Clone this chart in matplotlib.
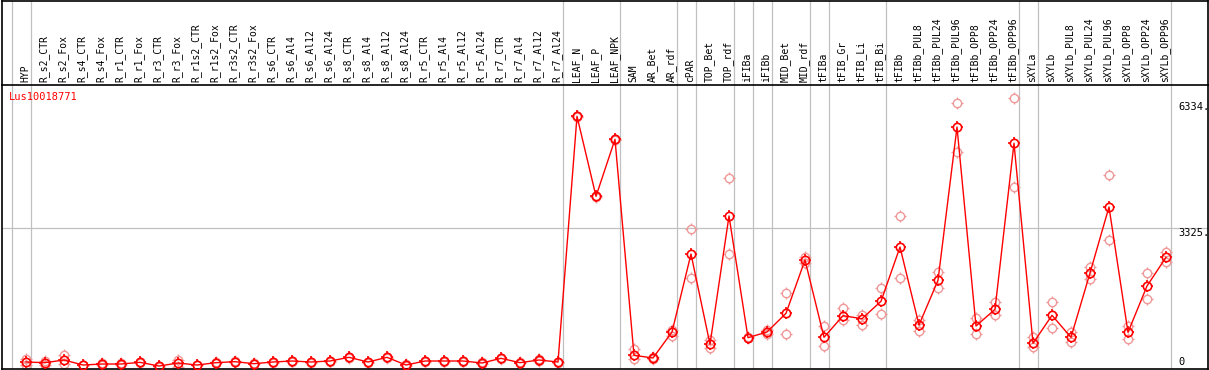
import matplotlib
matplotlib.use("Agg")
import matplotlib.pyplot as plt
from matplotlib.path import Path
import numpy as np

categories = ["HYP", "R_s2_CTR", "R_s2_Fox", "R_s4_CTR", "R_s4_Fox", "R_r1_CTR", "R_r1_Fox",
              "R_r3_CTR", "R_r3_Fox", "R_r1s2_CTR", "R_r1s2_Fox", "R_r3s2_CTR", "R_r3s2_Fox",
              "R_s6_CTR", "R_s6_Al4", "R_s6_Al12", "R_s6_Al24", "R_s8_CTR", "R_s8_Al4",
              "R_s8_Al12", "R_s8_Al24", "R_r5_CTR", "R_r5_Al4", "R_r5_Al12", "R_r5_Al24",
              "R_r7_CTR", "R_r7_Al4", "R_r7_Al12", "R_r7_Al24", "LEAF_N", "LEAF_P", "LEAF_NPK",
              "SAM", "AR_Bet", "AR_rdf", "cPAR", "TOP_Bet", "TOP_rdf", "iFIBa", "iFIBb",
              "MID_Bet", "MID_rdf", "tFIBa", "tFIB_Gr", "tFIB_Li", "tFIB_Bi", "tFIBb",
              "tFIBb_PUL8", "tFIBb_PUL24", "tFIBb_PUL96", "tFIBb_OPP8", "tFIBb_OPP24",
              "tFIBb_OPP96", "sXYLa", "sXYLb", "sXYLb_PUL8", "sXYLb_PUL24", "sXYLb_PUL96",
              "sXYLb_OPP8", "sXYLb_OPP24", "sXYLb_OPP96"]

means = [124, 108, 172, 52, 76, 76, 116, 28, 100, 52, 108, 132, 84, 124, 148, 124, 148,
         236, 124, 236, 52, 148, 148, 148, 100, 212, 108, 172, 124,
         5992, 4081, 5442, 284, 220, 841, 2703, 547, 3611, 705, 841, 1287, 2560,
         714, 1230, 1158, 1574, 2870, 1008, 2075, 5736, 984, 1382, 5347,
         571, 1239, 714, 2250, 3826, 833, 1939, 2624]

rep_high = [203, 160, 284, 60, 90, 90, 130, 40, 180, 60, 120, 145, 95, 135, 160, 135, 160,
            250, 135, 250, 65, 160, 160, 160, 115, 225, 120, 185, 135,
            6010, 4095, 5455, 442, 235, 888, 3293, 650, 4511, 720, 888, 1772, 2639,
            984, 1406, 1239, 1884, 3611, 1127, 2273, 6302, 1168, 1557, 6429,
            728, 1557, 841, 2400, 4583, 991, 2250, 2751]

rep_low = [52, 60, 76, 45, 60, 60, 100, 15, 12, 45, 95, 120, 70, 110, 135, 110, 135,
           220, 110, 220, 40, 135, 135, 135, 85, 200, 95, 160, 110,
           5975, 4065, 5430, 189, 205, 745, 2123, 466, 2703, 690, 800, 793, 2481,
           514, 1127, 1000, 1270, 2123, 872, 1884, 5132, 786, 1239, 4296,
           475, 929, 595, 2099, 3038, 673, 1629, 2505]

group_starts = [0, 1, 29, 32, 35, 36, 38, 39, 40, 42, 43, 46, 53, 54, 61]
gene = "Lus10018771"
ytick_vals = [6334, 3325, 0]
ytick_labels = ["6334.", "3325.", "0"]

W, H = 1209, 370
fig = plt.figure(figsize=(W / 100, H / 100), dpi=100)
FONT = "DejaVu Sans Mono"
FS = 7

def fx(px):
    return px / W

def fy(py):
    return 1 - py / H

left_px, right_px, top_px, head_px, bot_px = 2, 1208, 0.5, 85, 369
ax = fig.add_axes([fx(left_px), fy(bot_px), fx(right_px - left_px), (bot_px - head_px) / H])
hx = fig.add_axes([fx(left_px), fy(head_px), fx(right_px - left_px), (head_px - top_px) / H])

x0, step = 26, 19
xlim = ((left_px - x0) / step, (right_px - x0) / step)
scale = 0.041875
zero_px = 367.2
ylim = (-(bot_px - zero_px) / scale, (zero_px - head_px) / scale)

for a in (ax, hx):
    a.set_xlim(*xlim)
    a.set_xticks([])
    a.set_yticks([])
    for s in a.spines.values():
        s.set_color("black")
        s.set_linewidth(1.2)
ax.set_ylim(*ylim)
hx.set_ylim(0, 1)
ax.spines["top"].set_visible(False)

gray = "#c0c0c0"
for g in group_starts:
    for a in (ax, hx):
        a.axvline(g - 0.74, color=gray, lw=0.9, zorder=0)
ax.axhline(3325, color=gray, lw=0.9, zorder=0)

x = np.arange(len(categories))
for i, lab in enumerate(categories):
    hx.text(i - 0.05, 0.03, lab, rotation=90, ha="center", va="bottom",
            fontsize=FS, family=FONT, color="black")

# little stubs around each circle
stubs = Path([[0, 0.75], [0, 1], [0, -0.75], [0, -1], [0.75, 0], [1, 0], [-0.75, 0], [-1, 0]],
             [Path.MOVETO, Path.LINETO] * 4)

def draw_pts(vals, color, mew, z):
    ax.plot(x, vals, linestyle="none", marker="o", markersize=6.0, mfc="none",
            mec=color, mew=mew, zorder=z, clip_on=False)
    ax.plot(x, vals, linestyle="none", marker=stubs, markersize=8.5, mfc="none",
            mec=color, mew=mew, zorder=z, clip_on=False)

draw_pts(rep_high, "#f09898", 1.0, 2)
draw_pts(rep_low, "#f09898", 1.0, 2)
ax.plot(x, means, color="#ff0000", lw=1.0, zorder=3)
draw_pts(means, "#ff0000", 1.2, 4)

ax.text((9 - left_px) / (right_px - left_px), (bot_px - 92) / (bot_px - head_px), gene,
        transform=ax.transAxes, ha="left", va="top", fontsize=FS + 0.5, family=FONT,
        color="#ff0000")

tx = (1178 - x0) / step
for v, t in zip(ytick_vals, ytick_labels):
    ax.text(tx, v, t, ha="left", va="bottom" if v == 0 else "top",
            fontsize=FS + 0.5, family=FONT, color="black")

fig.savefig("out.png", dpi=100)
